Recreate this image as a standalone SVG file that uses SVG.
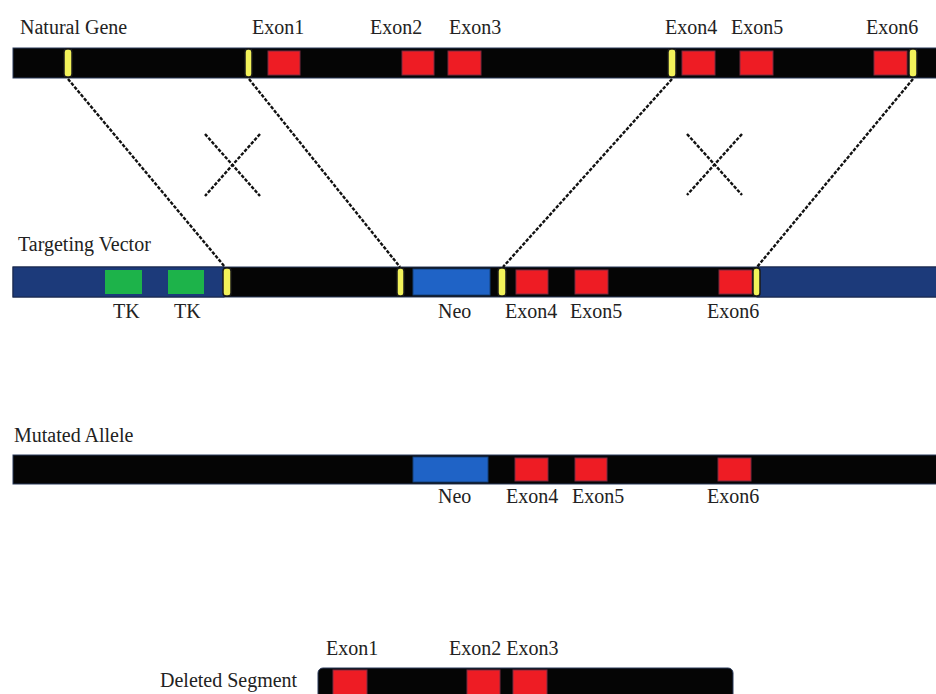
<svg xmlns="http://www.w3.org/2000/svg" width="936" height="694" viewBox="0 0 936 694" font-family="'Liberation Serif', 'Times New Roman', serif">
  <style>
    text { font-family: 'Liberation Serif', 'Times New Roman', serif; font-size: 20px; fill: #222; }
    .bar { fill: #050505; stroke: #2a3a5a; stroke-width: 1; }
    .vec { fill: #1c3a7a; stroke: #16254a; stroke-width: 1; }
    .exon { fill: #ee1c24; stroke: #7a2a40; stroke-width: 1; }
    .tk { fill: #1db34a; }
    .neo { fill: #1f63c6; stroke: #15407a; stroke-width: 1; }
    .arm { fill: #f2f25a; stroke: #1a1a1a; stroke-width: 1.5; }
    .cross { stroke: #111; stroke-width: 2.4; stroke-dasharray: 3.5 1.5; fill: none; }
  </style>

  <!-- Natural gene -->
  <g id="natural-gene">
    <text x="20" y="34">Natural Gene</text>
    <rect class="bar" x="13" y="48" width="930" height="30"/>
    <rect class="exon" x="268" y="51" width="32" height="24"/>
    <rect class="exon" x="402" y="51" width="32" height="24"/>
    <rect class="exon" x="448" y="51" width="33" height="24"/>
    <rect class="exon" x="682" y="51" width="33" height="24"/>
    <rect class="exon" x="740" y="51" width="33" height="24"/>
    <rect class="exon" x="874" y="51" width="33" height="24"/>
    <rect class="arm" x="64" y="49" width="8" height="28" rx="3"/>
    <rect class="arm" x="245" y="49" width="7" height="28" rx="3"/>
    <rect class="arm" x="668" y="49" width="8" height="28" rx="3"/>
    <rect class="arm" x="909" y="49" width="8" height="28" rx="3"/>
    <text x="252" y="34">Exon1</text>
    <text x="370" y="34">Exon2</text>
    <text x="449" y="34">Exon3</text>
    <text x="665" y="34">Exon4</text>
    <text x="731" y="34">Exon5</text>
    <text x="866" y="34">Exon6</text>
  </g>

  <!-- Targeting vector -->
  <g id="targeting-vector">
    <text x="18" y="251">Targeting Vector</text>
    <rect class="bar" x="13" y="267" width="930" height="30"/>
    <rect class="vec" x="13" y="267" width="211" height="30"/>
    <rect class="vec" x="757" y="267" width="186" height="30"/>
    <rect class="tk" x="105" y="270" width="37" height="24"/>
    <rect class="tk" x="168" y="270" width="36" height="24"/>
    <rect class="neo" x="413" y="269" width="77" height="26"/>
    <rect class="exon" x="516" y="270" width="32" height="24"/>
    <rect class="exon" x="575" y="270" width="33" height="24"/>
    <rect class="exon" x="719" y="270" width="33" height="24"/>
    <rect class="arm" x="223" y="268" width="8" height="28" rx="3"/>
    <rect class="arm" x="397" y="268" width="7" height="28" rx="3"/>
    <rect class="arm" x="498" y="268" width="8" height="28" rx="3"/>
    <rect class="arm" x="753" y="268" width="7" height="28" rx="3"/>
    <text x="113" y="318">TK</text>
    <text x="174" y="318">TK</text>
    <text x="438" y="318">Neo</text>
    <text x="505" y="318">Exon4</text>
    <text x="570" y="318">Exon5</text>
    <text x="707" y="318">Exon6</text>
  </g>

  <!-- Mutated allele -->
  <g id="mutated-allele">
    <text x="14" y="442">Mutated Allele</text>
    <rect class="bar" x="13" y="455" width="930" height="29"/>
    <rect class="neo" x="413" y="457" width="75" height="25"/>
    <rect class="exon" x="515" y="458" width="33" height="23"/>
    <rect class="exon" x="575" y="458" width="32" height="23"/>
    <rect class="exon" x="718" y="458" width="33" height="23"/>
    <text x="438" y="503">Neo</text>
    <text x="506" y="503">Exon4</text>
    <text x="572" y="503">Exon5</text>
    <text x="707" y="503">Exon6</text>
  </g>

  <!-- Deleted segment -->
  <g id="deleted-segment">
    <text x="326" y="655">Exon1</text>
    <text x="449" y="655">Exon2 Exon3</text>
    <text x="160" y="687">Deleted Segment</text>
    <rect class="bar" x="318" y="668" width="415" height="40" rx="5"/>
    <rect class="exon" x="333" y="670" width="34" height="30"/>
    <rect class="exon" x="467" y="670" width="33" height="30"/>
    <rect class="exon" x="513" y="670" width="34" height="30"/>
  </g>

  <!-- Crossover connectors -->
  <g id="connectors">
    <line class="cross" x1="68" y1="79" x2="225" y2="267"/>
    <line class="cross" x1="249" y1="79" x2="400" y2="267"/>
    <line class="cross" x1="672" y1="79" x2="503" y2="267"/>
    <line class="cross" x1="913" y1="79" x2="757" y2="267"/>
    <line class="cross" x1="205" y1="134" x2="260" y2="196"/>
    <line class="cross" x1="260" y1="134" x2="205" y2="196"/>
    <line class="cross" x1="687" y1="134" x2="742" y2="195"/>
    <line class="cross" x1="742" y1="134" x2="687" y2="195"/>
  </g>
</svg>
